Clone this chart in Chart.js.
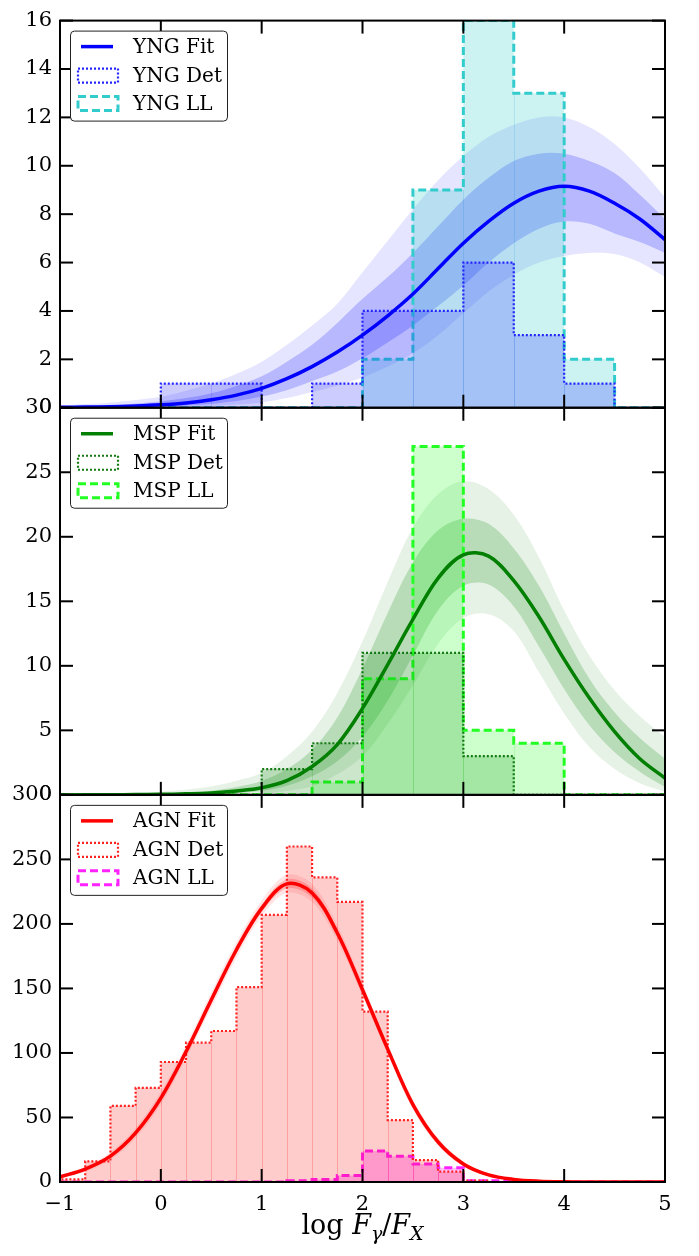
<!DOCTYPE html>
<html>
<head>
<meta charset="utf-8">
<script src="https://cdn.jsdelivr.net/npm/chart.js@4.4.1/dist/chart.umd.min.js"></script>
<style>
html, body { margin: 0; padding: 0; background: #fff; }
</style>
</head>
<body>
<canvas id="fluxChart" width="699" height="1256"></canvas>
<script>
// bin edges
const edgesHalf = [-1, -0.5, 0, 0.5, 1, 1.5, 2, 2.5, 3, 3.5, 4, 4.5, 5];
const edgesQuarter = [-1, -0.75, -0.5, -0.25, 0, 0.25, 0.5, 0.75, 1, 1.25, 1.5, 1.75, 2,
    2.25, 2.5, 2.75, 3, 3.25, 3.5, 3.75, 4, 4.25, 4.5, 4.75, 5];
// x grid of the fitted curves
const fitX = [-1, -0.75, -0.5, -0.25, 0, 0.25, 0.5, 0.75, 1, 1.25, 1.5, 1.75, 2,
    2.25, 2.5, 2.75, 3, 3.25, 3.5, 3.75, 4, 4.25, 4.5, 4.75, 5];

// YNG
const yngDet = [0, 0, 1, 1, 0, 1, 4, 4, 6, 3, 1, 0];
const yngLL = [0, 0, 0, 0, 0, 0, 2, 9, 16, 13, 2, 0];
const yngFit = [0.02, 0.03, 0.04, 0.07, 0.12, 0.2, 0.33, 0.52, 0.8, 1.2, 1.7, 2.3, 3.0,
    3.8, 4.7, 5.75, 6.8, 7.7, 8.45, 8.95, 9.15, 8.95, 8.45, 7.8, 6.95];
const yngHi2 = [0.1, 0.15, 0.22, 0.32, 0.45, 0.7, 1.0, 1.4, 1.9, 2.6, 3.4, 4.3, 5.6,
    6.9, 8.2, 9.4, 10.4, 11.2, 11.7, 12.0, 12.0, 11.6, 10.9, 9.9, 8.7];
const yngHi1 = [0.05, 0.08, 0.12, 0.18, 0.27, 0.4, 0.6, 0.9, 1.3, 1.9, 2.6, 3.5, 4.5,
    5.4, 6.4, 7.5, 8.6, 9.5, 10.2, 10.5, 10.5, 10.2, 9.7, 8.8, 7.8];
const yngLo1 = [0.01, 0.015, 0.02, 0.03, 0.05, 0.09, 0.16, 0.28, 0.46, 0.72, 1.1, 1.5, 2.05,
    2.7, 3.4, 4.2, 5.05, 6.0, 6.8, 7.4, 7.7, 7.6, 7.2, 6.85, 6.4];
const yngLo2 = [0, 0, 0.005, 0.01, 0.02, 0.04, 0.08, 0.13, 0.22, 0.4, 0.65, 0.92, 1.25,
    1.7, 2.25, 3.0, 3.9, 4.8, 5.5, 6.0, 6.27, 6.4, 6.35, 6.0, 5.4];

// MSP
const mspDet = [0, 0, 0, 0, 2, 4, 11, 11, 3, 0, 0, 0];
const mspLL = [0, 0, 0, 0, 0, 1, 9, 27, 5, 4, 0, 0];
const mspFit = [0, 0, 0.01, 0.02, 0.04, 0.08, 0.15, 0.3, 0.55, 1.1, 2.2, 3.9, 6.7,
    10.1, 13.6, 16.8, 18.6, 18.5, 16.6, 13.8, 10.5, 7.5, 4.9, 2.8, 1.3];
const mspHi2 = [0.02, 0.05, 0.08, 0.14, 0.25, 0.4, 0.65, 1.1, 1.7, 3.0, 4.9, 7.9, 11.9,
    16.5, 20.7, 23.3, 24.3, 23.7, 21.7, 18.4, 14.3, 10.8, 8.1, 6.1, 4.5];
const mspHi1 = [0.01, 0.02, 0.03, 0.06, 0.1, 0.18, 0.32, 0.6, 1.07, 2.0, 3.5, 6.0, 9.8,
    14.1, 18.0, 20.5, 21.4, 21.0, 19.1, 16.2, 12.5, 9.0, 6.4, 4.4, 2.8];
const mspLo1 = [0, 0, 0, 0, 0.01, 0.03, 0.06, 0.14, 0.3, 0.7, 1.44, 2.6, 4.5,
    7.3, 10.8, 14.3, 16.2, 16.3, 14.6, 11.5, 8.2, 5.4, 3.3, 1.8, 0.6];
const mspLo2 = [0, 0, 0, 0, 0, 0.01, 0.02, 0.05, 0.1, 0.3, 0.67, 1.6, 3.0,
    5.5, 8.5, 11.7, 13.7, 14.0, 12.7, 9.5, 6.3, 3.7, 2.0, 0.9, 0.25];

// AGN
const agnDet = [2, 16, 59, 73, 93, 108, 117, 151, 207, 260, 236, 217,
    132, 48, 17, 8, 1, 0, 0, 0, 0, 0, 0, 0];
const agnLL = [0, 0, 0, 0, 0, 0, 0, 0, 0, 1, 2, 5,
    24, 20, 14, 11, 1, 1, 0, 0, 0, 0, 0, 0];
const agnFit = [4, 10, 20, 38, 65, 101, 141, 180, 212, 231, 224, 193, 149,
    103, 60, 31, 14, 5.5, 2, 0.6, 0.15, 0.04, 0.01, 0, 0];
const agnHi2 = [5, 12, 23, 42, 70, 106, 147, 186, 218, 238, 231, 199, 154,
    107, 64, 34, 16, 6.5, 2.6, 0.9, 0.3, 0.1, 0.03, 0.01, 0];
const agnHi1 = [4.5, 11, 21.5, 40, 67.5, 103.5, 144, 183, 215, 234.5, 227.5, 196, 151.5,
    105, 62, 32.5, 15, 6, 2.3, 0.75, 0.22, 0.07, 0.02, 0, 0];
const agnLo1 = [3.5, 9, 18.5, 36, 62.5, 98.5, 138, 177, 209, 227.5, 220.5, 190, 146.5,
    101, 58, 29.5, 13, 5, 1.75, 0.5, 0.1, 0.02, 0, 0, 0];
const agnLo2 = [3, 8, 17, 34, 60, 96, 135, 174, 206, 224, 217, 187, 144,
    99, 56, 28, 12, 4.5, 1.5, 0.4, 0.1, 0.02, 0, 0, 0];

const xTicks = [-1, 0, 1, 2, 3, 4, 5];
const serif = '"DejaVu Serif", serif';

function histPoints(edges, counts) {
    const pts = [{ x: edges[0], y: 0 }];
    counts.forEach((c, i) => {
        pts.push({ x: edges[i], y: c });
        pts.push({ x: edges[i + 1], y: c });
    });
    pts.push({ x: edges[edges.length - 1], y: 0 });
    return pts;
}

function curvePoints(ys) {
    return fitX.map((x, i) => ({ x: x, y: ys[i] }));
}

const panels = [
    {
        axis: 'yY', name: 'YNG', edges: edgesHalf, det: yngDet, ll: yngLL,
        fit: yngFit, hi2: yngHi2, hi1: yngHi1, lo1: yngLo1, lo2: yngLo2,
        fitColor: '#0000ff', band: '0, 0, 255',
        detColor: '#2424ff', detFill: 'rgba(0, 0, 255, 0.2)', detEdge: 'rgba(0, 0, 255, 0.12)',
        llColor: '#33cccc', llFill: 'rgba(0, 191, 191, 0.2)', llEdge: 'rgba(0, 150, 200, 0.15)'
    },
    {
        axis: 'yM', name: 'MSP', edges: edgesHalf, det: mspDet, ll: mspLL,
        fit: mspFit, hi2: mspHi2, hi1: mspHi1, lo1: mspLo1, lo2: mspLo2,
        fitColor: '#007f00', band: '0, 128, 0',
        detColor: '#137a13', detFill: 'rgba(0, 128, 0, 0.2)', detEdge: 'rgba(0, 128, 0, 0.12)',
        llColor: '#22ff22', llFill: 'rgba(0, 255, 0, 0.2)', llEdge: 'rgba(0, 200, 0, 0.15)'
    },
    {
        axis: 'yA', name: 'AGN', edges: edgesQuarter, det: agnDet, ll: agnLL,
        fit: agnFit, hi2: agnHi2, hi1: agnHi1, lo1: agnLo1, lo2: agnLo2,
        fitColor: '#ff0000', band: '255, 0, 0',
        detColor: '#ff2020', detFill: 'rgba(255, 0, 0, 0.2)', detEdge: 'rgba(255, 0, 0, 0.22)',
        llColor: '#ff22ff', llFill: 'rgba(255, 0, 255, 0.25)', llEdge: 'rgba(255, 0, 255, 0.25)'
    }
];

const smooth = { cubicInterpolationMode: 'default', tension: 0.35 };

const datasets = [];
panels.forEach(p => {
    const hidden = Object.assign({ borderWidth: 0, pointRadius: 0, fill: false, yAxisID: p.axis }, smooth);
    const i0 = datasets.length;
    datasets.push(Object.assign({ data: curvePoints(p.lo2), order: 5 }, hidden));
    datasets.push(Object.assign({}, hidden, { data: curvePoints(p.hi2), order: 5,
        fill: i0, backgroundColor: 'rgba(' + p.band + ', 0.1)' }));
    datasets.push(Object.assign({ data: curvePoints(p.lo1), order: 4 }, hidden));
    datasets.push(Object.assign({}, hidden, { data: curvePoints(p.hi1), order: 4,
        fill: i0 + 2, backgroundColor: 'rgba(' + p.band + ', 0.2)' }));
    datasets.push({
        data: histPoints(p.edges, p.ll), yAxisID: p.axis, order: 3,
        fill: 'origin', backgroundColor: p.llFill,
        borderColor: p.llColor, borderWidth: 3, borderDash: [8, 4], pointRadius: 0
    });
    datasets.push({
        data: histPoints(p.edges, p.det), yAxisID: p.axis, order: 2,
        fill: 'origin', backgroundColor: p.detFill,
        borderColor: p.detColor, borderWidth: 2.2, borderDash: [2, 2], pointRadius: 0
    });
    datasets.push(Object.assign({
        data: curvePoints(p.fit), yAxisID: p.axis, order: 0, fill: false,
        borderColor: p.fitColor, borderWidth: 3.5, pointRadius: 0
    }, smooth));
});

function yAxis(max, step) {
    return {
        type: 'linear', position: 'left', stack: 'panels', stackWeight: 1,
        min: 0, max: max,
        ticks: { stepSize: step, autoSkip: false, color: '#000', padding: 8,
            font: { family: serif, size: 21 } },
        grid: { display: false, drawTicks: false },
        border: { display: false },
        afterFit: s => { s.width = 60; }
    };
}

function strokeLine(ctx, x1, y1, x2, y2) {
    ctx.beginPath();
    ctx.moveTo(x1, y1);
    ctx.lineTo(x2, y2);
    ctx.stroke();
}

// faint vertical seams inside the filled histograms
function drawSeams(ctx, x, y, edges, counts, color) {
    ctx.strokeStyle = color;
    ctx.lineWidth = 1;
    for (let i = 1; i < counts.length; i++) {
        const h = Math.min(counts[i - 1], counts[i]);
        if (h <= 0) continue;
        const px = Math.round(x.getPixelForValue(edges[i])) + 0.5;
        strokeLine(ctx, px, y.getPixelForValue(0), px, y.getPixelForValue(h));
    }
}

function drawLegend(ctx, left, top, p) {
    ctx.save();
    ctx.setLineDash([]);
    ctx.fillStyle = '#fff';
    ctx.strokeStyle = '#222';
    ctx.lineWidth = 1;
    ctx.beginPath();
    ctx.roundRect(left + 0.5, top + 0.5, 157, 90, 4);
    ctx.fill();
    ctx.stroke();

    const sx = left + 8, sw = 40;
    const rows = [top + 16, top + 45, top + 73];
    ctx.strokeStyle = p.fitColor;
    ctx.lineWidth = 3.5;
    strokeLine(ctx, sx + 3, rows[0], sx + sw - 5, rows[0]);
    ctx.strokeStyle = p.detColor;
    ctx.lineWidth = 2.2;
    ctx.setLineDash([2, 2]);
    ctx.strokeRect(sx, rows[1] - 7, sw, 14);
    ctx.strokeStyle = p.llColor;
    ctx.lineWidth = 3;
    ctx.setLineDash([8, 4]);
    ctx.strokeRect(sx, rows[2] - 7, sw, 14);
    ctx.setLineDash([]);

    ctx.fillStyle = '#000';
    ctx.font = '20px ' + serif;
    ctx.textBaseline = 'middle';
    ctx.textAlign = 'left';
    ctx.fillText(p.name + ' Fit', left + 63, rows[0] + 1);
    ctx.fillText(p.name + ' Det', left + 63, rows[1] + 1);
    ctx.fillText(p.name + ' LL', left + 63, rows[2] + 1);
    ctx.restore();
}

const framePlugin = {
    id: 'frames',
    beforeDatasetsDraw(chart) {
        const ctx = chart.ctx;
        const x = chart.scales.x;
        ctx.save();
        panels.forEach(p => {
            const y = chart.scales[p.axis];
            drawSeams(ctx, x, y, p.edges, p.det, p.detEdge);
            drawSeams(ctx, x, y, p.edges, p.ll, p.llEdge);
        });
        ctx.restore();
    },
    afterDatasetsDraw(chart) {
        const ctx = chart.ctx;
        const x = chart.scales.x;
        const tl = 13;
        ctx.save();
        panels.forEach(p => {
            const y = chart.scales[p.axis];
            ctx.strokeStyle = '#000';
            ctx.lineWidth = 2;
            y.ticks.forEach(t => {
                const py = y.getPixelForValue(t.value);
                strokeLine(ctx, x.left, py, x.left + tl, py);
                strokeLine(ctx, x.right, py, x.right - tl, py);
            });
            x.ticks.forEach(t => {
                const px = x.getPixelForValue(t.value);
                strokeLine(ctx, px, y.top, px, y.top + tl);
                strokeLine(ctx, px, y.bottom, px, y.bottom - tl);
            });
            ctx.strokeRect(x.left, y.top, x.right - x.left, y.bottom - y.top);
            drawLegend(ctx, x.left + 10, y.top + 10, p);
        });
        ctx.restore();
    },
    afterDraw(chart) {
        // x axis title: log F_gamma / F_X
        const ctx = chart.ctx;
        const x = chart.scales.x;
        const parts = [
            { t: 'log ', f: '27px ' + serif, dy: 0 },
            { t: 'F', f: 'italic 27px ' + serif, dy: 0 },
            { t: 'γ', f: 'italic 19px ' + serif, dy: 6 },
            { t: '/', f: '27px ' + serif, dy: 0 },
            { t: 'F', f: 'italic 27px ' + serif, dy: 0 },
            { t: 'X', f: 'italic 19px ' + serif, dy: 6 }
        ];
        ctx.save();
        ctx.fillStyle = '#000';
        ctx.textBaseline = 'alphabetic';
        ctx.textAlign = 'left';
        let total = 0;
        parts.forEach(pt => { ctx.font = pt.f; pt.w = ctx.measureText(pt.t).width; total += pt.w; });
        let cx = (x.left + x.right) / 2 - total / 2;
        const base = 1234;
        parts.forEach(pt => {
            ctx.font = pt.f;
            ctx.fillText(pt.t, cx, base + pt.dy);
            cx += pt.w;
        });
        ctx.restore();
    }
};

const ctx = document.getElementById('fluxChart').getContext('2d');
const fluxChart = new Chart(ctx, {
    type: 'line',
    data: { datasets: datasets },
    options: {
        responsive: false,
        animation: false,
        devicePixelRatio: 1,
        layout: { padding: { top: 13, right: 34, left: 0, bottom: 0 } },
        plugins: {
            legend: { display: false },
            tooltip: { enabled: false }
        },
        scales: {
            x: {
                type: 'linear', min: -1, max: 5,
                afterBuildTicks: s => { s.ticks = xTicks.map(v => ({ value: v })); },
                ticks: {
                    color: '#000', padding: 10, maxRotation: 0, autoSkip: false,
                    font: { family: serif, size: 21 },
                    callback: v => (v < 0 ? '\u2212' + Math.abs(v) : String(v))
                },
                grid: { display: false, drawTicks: false },
                border: { display: false },
                afterFit: s => { s.height = 74; }
            },
            yA: yAxis(300, 50),
            yM: yAxis(30, 5),
            yY: yAxis(16, 2)
        }
    },
    plugins: [framePlugin]
});
</script>
</body>
</html>
